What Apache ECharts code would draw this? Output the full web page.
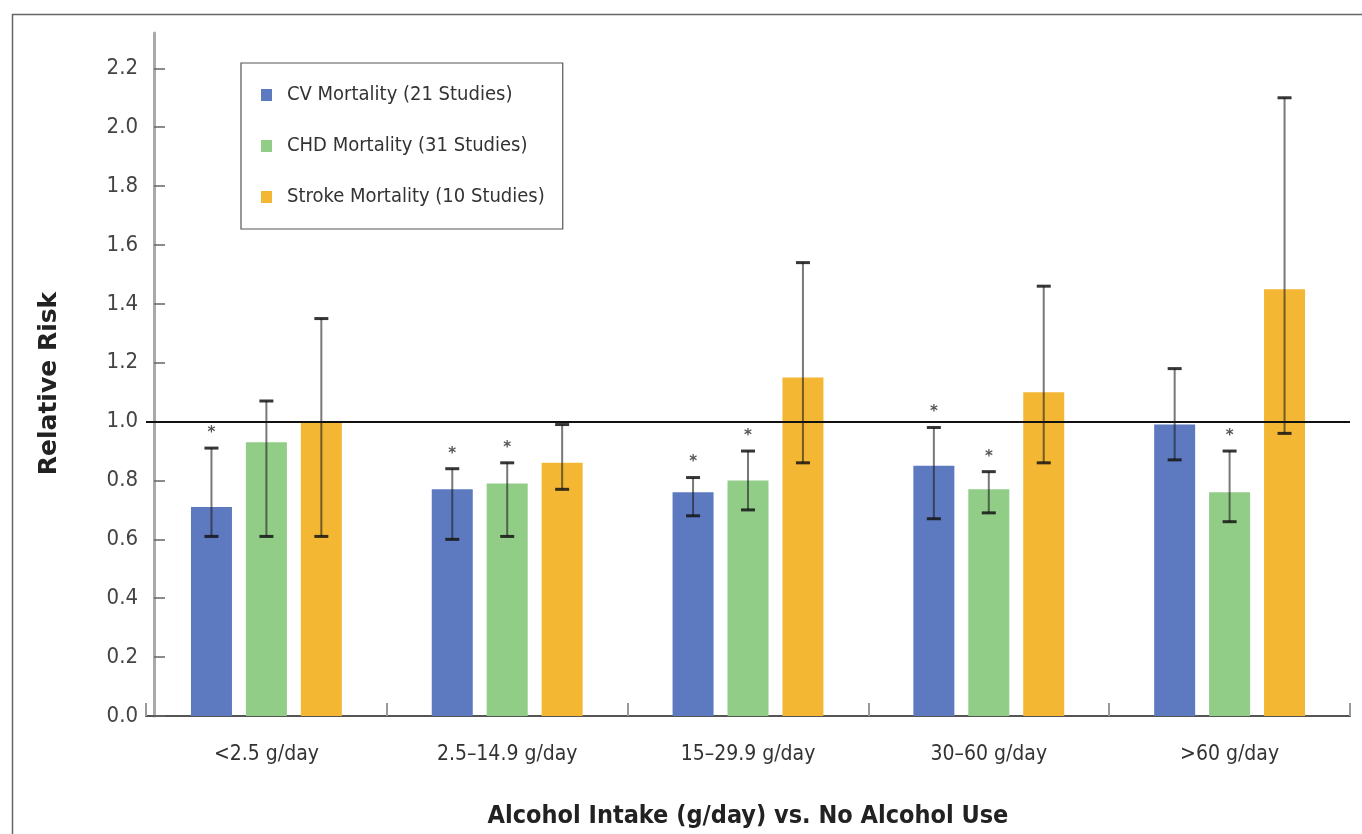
<!DOCTYPE html>
<html>
<head>
<meta charset="utf-8">
<script src="https://cdn.jsdelivr.net/npm/echarts@6/dist/echarts.min.js"></script>
<style>
  html, body { margin: 0; padding: 0; background: #fff; }
  #chart { width: 1362px; height: 834px; }
</style>
</head>
<body>
<div id="chart"></div>
<script>
// Relative risk of cardiovascular outcomes by alcohol intake, with 95% CI
const categories = ['<2.5 g/day', '2.5\u201314.9 g/day', '15\u201329.9 g/day', '30\u201360 g/day', '>60 g/day'];
const seriesNames = ['CV Mortality (21 Studies)', 'CHD Mortality (31 Studies)', 'Stroke Mortality (10 Studies)'];

const cvRisk   = [0.71, 0.77, 0.76, 0.85, 0.99];
const cvLow    = [0.61, 0.60, 0.68, 0.67, 0.87];
const cvHigh   = [0.91, 0.84, 0.81, 0.98, 1.18];
const cvSig    = [1, 1, 1, 1, 0];

const chdRisk  = [0.93, 0.79, 0.80, 0.77, 0.76];
const chdLow   = [0.61, 0.61, 0.70, 0.69, 0.66];
const chdHigh  = [1.07, 0.86, 0.90, 0.83, 0.90];
const chdSig   = [0, 1, 1, 1, 1];

const strokeRisk = [1.00, 0.86, 1.15, 1.10, 1.45];
const strokeLow  = [0.61, 0.77, 0.86, 0.86, 0.96];
const strokeHigh = [1.35, 0.99, 1.54, 1.46, 2.10];
const strokeSig  = [0, 0, 0, 0, 0];

const yTicks = [0.0, 0.2, 0.4, 0.6, 0.8, 1.0, 1.2, 1.4, 1.6, 1.8, 2.0, 2.2];
const referenceRisk = 1.0;

const colors = ['#5d79bf', '#92cd88', '#f3b733'];
const BAR_W = 41;
const BAR_GAP = 0.34;
const condensed = "'DejaVu Sans Condensed', 'Liberation Sans Narrow', 'DejaVu Sans', sans-serif";

const groups = [
  { risk: cvRisk, low: cvLow, high: cvHigh, sig: cvSig },
  { risk: chdRisk, low: chdLow, high: chdHigh, sig: chdSig },
  { risk: strokeRisk, low: strokeLow, high: strokeHigh, sig: strokeSig }
];

function errorBarSeries(g, idx) {
  const shift = (idx - 1) * BAR_W * (1 + BAR_GAP);
  return {
    type: 'custom',
    silent: true,
    z: 5,
    data: categories.map((c, i) => [i, g.low[i], g.high[i], g.sig[i]]),
    encode: { x: 0, y: [1, 2] },
    renderItem: function (params, api) {
      const ci = api.value(0);
      const lo = api.coord([ci, api.value(1)]);
      const hi = api.coord([ci, api.value(2)]);
      const x = lo[0] + shift;
      const cap = 7;
      const stroke = { stroke: 'rgba(30,30,30,0.6)', lineWidth: 2 };
      const capStyle = { stroke: 'rgba(20,20,20,0.85)', lineWidth: 3 };
      const children = [
        { type: 'line', shape: { x1: x, y1: hi[1], x2: x, y2: lo[1] }, style: stroke },
        { type: 'line', shape: { x1: x - cap, y1: hi[1], x2: x + cap, y2: hi[1] }, style: capStyle },
        { type: 'line', shape: { x1: x - cap, y1: lo[1], x2: x + cap, y2: lo[1] }, style: capStyle }
      ];
      if (api.value(3)) {
        children.push({
          type: 'text',
          style: {
            text: '*', x: x, y: hi[1] - 15,
            align: 'center', verticalAlign: 'middle',
            font: "bold 15px 'DejaVu Sans', sans-serif", fill: '#555'
          }
        });
      }
      return { type: 'group', children: children };
    }
  };
}

const barSeries = groups.map((g, idx) => ({
  name: seriesNames[idx],
  type: 'bar',
  data: g.risk,
  barWidth: BAR_W,
  barGap: (BAR_GAP * 100) + '%',
  itemStyle: { color: colors[idx] },
  z: 2,
  markLine: idx === 0 ? {
    silent: true,
    symbol: 'none',
    label: { show: false },
    lineStyle: { color: '#111', width: 2, type: 'solid' },
    data: [{ yAxis: referenceRisk }],
    z: 4
  } : undefined
}));

const chart = echarts.init(document.getElementById('chart'), null, { renderer: 'canvas' });
chart.setOption({
  animation: false,
  backgroundColor: '#fff',
  color: colors,
  graphic: [{
    type: 'rect',
    left: 10, top: 12,
    shape: { width: 1400, height: 900 },
    style: { fill: 'none', stroke: '#666', lineWidth: 1.5 },
    silent: true
  }],
  legend: {
    data: seriesNames,
    orient: 'vertical',
    left: 241, top: 63,
    padding: [22, 18, 22, 20],
    itemGap: 31,
    itemWidth: 11,
    itemHeight: 12,
    icon: 'rect',
    borderColor: '#555',
    borderWidth: 1.2,
    textStyle: { fontFamily: condensed, fontSize: 20, color: '#333', padding: [0, 0, 0, 10] }
  },
  grid: { left: 146, right: 12, top: 33, bottom: 109 },
  xAxis: {
    type: 'category',
    data: categories,
    name: 'Alcohol Intake (g/day) vs. No Alcohol Use',
    nameLocation: 'middle',
    nameGap: 88,
    nameTextStyle: { fontFamily: condensed, fontSize: 25, fontWeight: 'bold', color: '#222' },
    axisLine: { lineStyle: { color: '#555', width: 2 } },
    axisTick: { show: true, inside: true, length: 13, lineStyle: { color: '#999', width: 2 } },
    axisLabel: { fontFamily: condensed, fontSize: 21, color: '#333', margin: 28 }
  },
  yAxis: {
    type: 'value',
    min: 0,
    max: 2.32,
    offset: -8,
    name: 'Relative Risk',
    nameLocation: 'middle',
    nameGap: 92,
    nameTextStyle: {
      fontFamily: "'DejaVu Sans', sans-serif", fontSize: 25, fontWeight: 'bold', color: '#222',
      padding: [0, 18, 0, 0]
    },
    splitLine: { show: false },
    axisLine: { show: true, lineStyle: { color: '#aaa', width: 3 } },
    axisTick: { show: true, inside: true, length: 11, customValues: yTicks, lineStyle: { color: '#666', width: 1.5 } },
    axisLabel: {
      customValues: yTicks,
      fontFamily: condensed, fontSize: 22, color: '#444', margin: 16,
      formatter: v => v.toFixed(1)
    }
  },
  series: barSeries.concat(groups.map(errorBarSeries))
});
</script>
</body>
</html>
